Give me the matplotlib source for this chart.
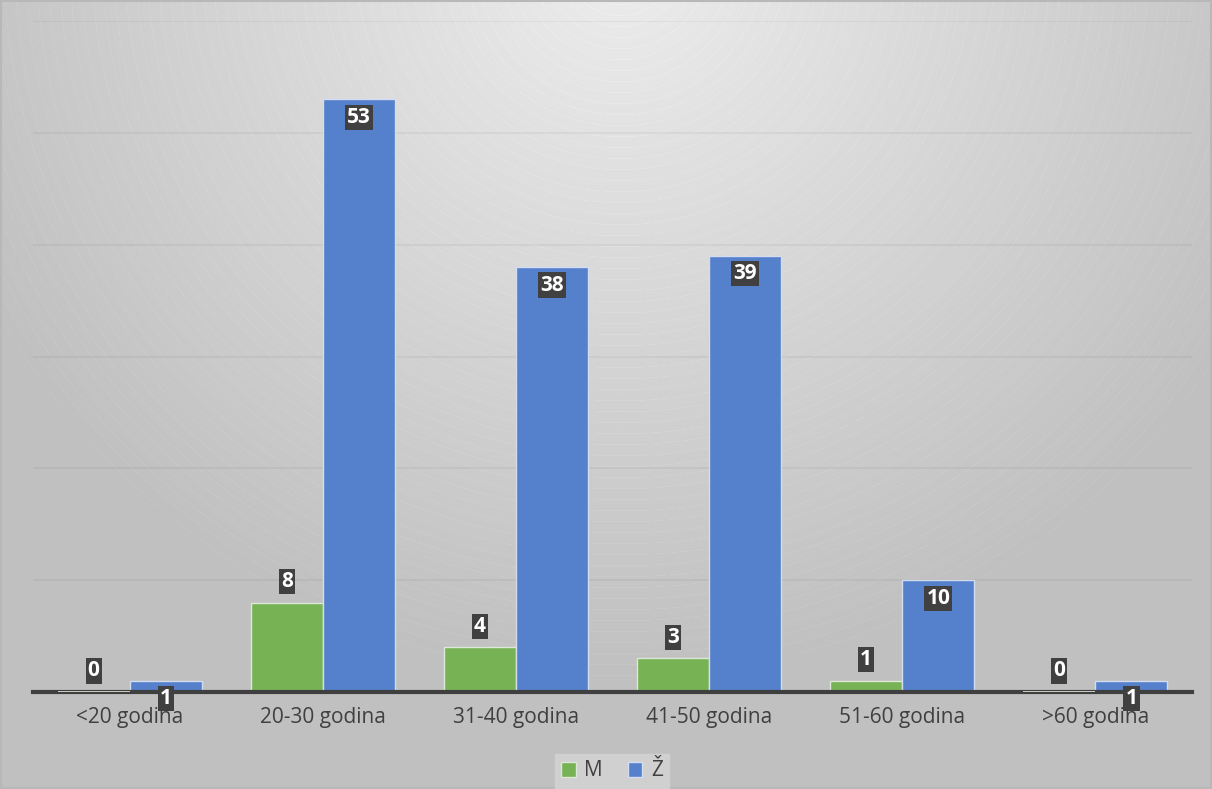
import numpy as np
import matplotlib.pyplot as plt
from matplotlib.patches import Rectangle

categories = ["<20 godina", "20-30 godina", "31-40 godina", "41-50 godina", "51-60 godina", ">60 godina"]
m_values = [0, 8, 4, 3, 1, 0]
z_values = [1, 53, 38, 39, 10, 1]
series_names = ["M", "Ž"]

W, H = 1212, 789
fig = plt.figure(figsize=(W / 100, H / 100), dpi=100)

# background radial gradient
bg = fig.add_axes([0, 0, 1, 1], zorder=0)
yy, xx = np.mgrid[0:H, 0:W]
r = np.hypot(xx - 620, (yy + 40) * 1.0)
t = np.clip(r / 720.0, 0, 1)
light = np.array([0.93, 0.93, 0.93])
dark = np.array([0.753, 0.753, 0.753])
img = light[None, None, :] * (1 - t[..., None]) + dark[None, None, :] * t[..., None]
# faint concentric arcs
rings = (np.mod(r, 11.0) < 0.7) & (r < 720)
img[rings] = np.minimum(img[rings] + 0.018, 1)
bg.imshow(img, extent=[0, W, H, 0], aspect="auto", interpolation="bilinear")
bg.set_xlim(0, W)
bg.set_ylim(H, 0)
bg.axis("off")
bg.add_patch(Rectangle((1, 1), W - 2, H - 2, fill=False, edgecolor="#b8b8b8", lw=1.5))

ax = fig.add_axes([33 / W, 1 - 692 / H, (1192 - 33) / W, (692 - 21) / H], zorder=1)
ax.patch.set_alpha(0)
x = np.arange(len(categories))
bw = 0.373
green = "#77b255"
blue = "#5580cb"
ax.bar(x - bw / 2, m_values, bw, color=green, edgecolor="#dde8d6", linewidth=1.0, zorder=3, label=series_names[0])
ax.bar(x + bw / 2, z_values, bw, color=blue, edgecolor="#d4dcef", linewidth=1.0, zorder=3, label=series_names[1])
# zero-height bars still show a thin light outline
for xi, v in zip(x, m_values):
    if v == 0:
        ax.plot([xi - bw, xi], [0, 0], color="#dde8d6", lw=1.2, zorder=5, solid_capstyle="butt")

ax.set_xlim(-0.5, len(categories) - 0.5)
ax.set_ylim(0, 60)
ax.set_yticks(np.arange(0, 61, 10))
ax.yaxis.grid(True, color="black", alpha=0.045, linewidth=1.5, zorder=0)
ax.tick_params(axis="y", left=False, labelleft=False)
ax.tick_params(axis="x", bottom=False, pad=7, labelsize=15, labelcolor="#404040")
ax.set_xticks(x)
ax.set_xticklabels(categories, fontfamily="Open Sans")
for s in ["top", "right", "left"]:
    ax.spines[s].set_visible(False)
ax.spines["bottom"].set_color("#3f3f3f")
ax.spines["bottom"].set_linewidth(3)
ax.spines["bottom"].set_zorder(4)

box = dict(boxstyle="square,pad=0.1", facecolor="#404040", edgecolor="none")
for xi, v in zip(x, m_values):
    ax.annotate(str(v), (xi - bw / 2, v), xytext=(0, 21), textcoords="offset pixels",
                ha="center", va="center", color="white", fontsize=15, fontweight="bold",
                fontfamily="Open Sans", bbox=box, zorder=6)
for xi, v in zip(x, z_values):
    ax.annotate(str(v), (xi + bw / 2, v), xytext=(0, -18), textcoords="offset pixels",
                ha="center", va="center", color="white", fontsize=15, fontweight="bold",
                fontfamily="Open Sans", bbox=box, zorder=6)

leg = fig.legend(loc="center", bbox_to_anchor=(612 / W, 1 - 771 / H), ncol=2, frameon=True,
                 fancybox=False, framealpha=1, facecolor="#d0d0d0", edgecolor="#d0d0d0",
                 prop={"family": "Open Sans", "size": 15}, handlelength=0.7, handleheight=0.7,
                 columnspacing=1.2, handletextpad=0.4, borderpad=0.3)
for txt in leg.get_texts():
    txt.set_color("#404040")

fig.savefig("out.png", dpi=100)
